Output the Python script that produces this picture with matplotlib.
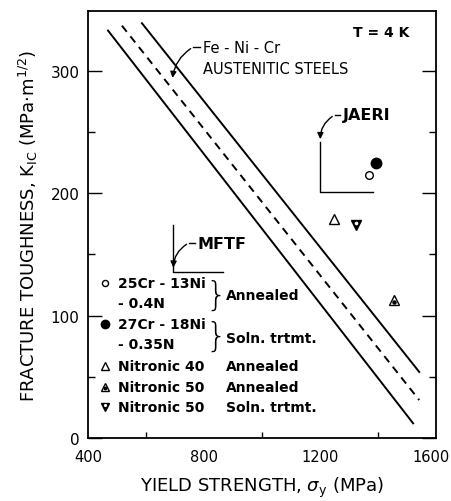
import numpy as np
import matplotlib.pyplot as plt
import matplotlib.transforms as mtransforms
from matplotlib.ticker import MultipleLocator, FixedLocator

# Fe-Ni-Cr austenitic steel scatter band (lower bound, mean, upper bound)
band_sy = [[469, 1521], [517, 1542], [586, 1542]]
band_kic = [[333, 12], [337, 31], [339, 54]]
band_ls = ['-', (0, (4, 3)), '-']

# individual high-nitrogen alloys at 4 K
alloy_sy = [1370, 1393, 1248, 1455, 1324]
alloy_kic = [215, 225, 179, 113, 174]
alloy_marker = ['o', 'o', '^', '^', 'v']
alloy_face = ['white', 'black', 'white', 'white', 'black']
alloy_ms = [5.5, 7.5, 6.5, 6.5, 6.5]

# key text
key_text = ['25Cr - 13Ni', '- 0.4N', '27Cr - 18Ni', '- 0.35N',
            'Nitronic 40', 'Nitronic 50', 'Nitronic 50']
key_y = [127, 110.5, 93.5, 76.5, 58.5, 42, 25.5]
key_alloy = [0, None, 1, None, 2, 3, 4]
cond_text = ['Annealed', 'Soln. trtmt.', 'Annealed', 'Annealed', 'Soln. trtmt.']
cond_y = [117, 82, 58.5, 42, 25.5]

fig = plt.figure(figsize=(4.52, 5.02), dpi=100)
ax = fig.add_axes([0.1947, 0.1255, 0.770, 0.8506])

for xs, ys, ls in zip(band_sy, band_kic, band_ls):
    ax.plot(xs, ys, color='black', lw=1.4, ls=ls)


def alloy_mark(x, y, i, scale=1.0):
    ax.plot(x, y, ls='none', marker=alloy_marker[i], ms=alloy_ms[i] * scale,
            mfc=alloy_face[i], mec='black', mew=1.0)
    if i == 3:
        ax.plot(x, y - 1.5 * scale, ls='none', marker='o', ms=2.2 * scale,
                mfc='black', mec='black')
    if i == 4:
        ax.plot(x, y + 1.5 * scale, ls='none', marker='o', ms=1.6 * scale,
                mfc='white', mec='white')


for i in range(len(alloy_sy)):
    alloy_mark(alloy_sy[i], alloy_kic[i], i)

# key, written inside the axes
bold = dict(fontsize=10, fontweight='bold', va='center', family='DejaVu Sans')
for txt, y, ai in zip(key_text, key_y, key_alloy):
    ax.text(503, y, txt, ha='left', **bold)
    if ai is not None:
        alloy_mark(459, y, ai, scale=0.8)
for txt, y in zip(cond_text, cond_y):
    ax.text(876, y, txt, ha='left', **bold)
for ytop, ybot in [(131, 103), (97, 69)]:
    ax.text(840, (ytop + ybot) / 2, '}', fontsize=24, ha='center', va='center',
            fontweight='light')

ax.text(1410, 332, 'T = 4 K', fontsize=10, fontweight='bold', ha='center', va='center')

# Fe-Ni-Cr band label
ax.text(797, 319, 'Fe - Ni - Cr', fontsize=10.5, ha='left', va='center')
ax.text(797, 302, 'AUSTENITIC STEELS', fontsize=10.5, ha='left', va='center')
ax.plot([762, 785], [319.5, 319.5], color='black', lw=1.0)
ax.annotate('', xy=(690, 292), xytext=(762, 319.5),
            arrowprops=dict(arrowstyle='-|>', color='black', lw=1.0,
                            mutation_scale=9,
                            connectionstyle='arc3,rad=0.25'))

# JAERI group
ax.text(1280, 264, 'JAERI', fontsize=11.5, fontweight='bold', ha='left', va='center')
ax.plot([1250, 1270], [264, 264], color='black', lw=1.0)
ax.annotate('', xy=(1201, 242), xytext=(1250, 264),
            arrowprops=dict(arrowstyle='-|>', color='black', lw=1.0,
                            mutation_scale=9,
                            connectionstyle='arc3,rad=0.3'))
ax.plot([1200, 1200, 1383], [242, 201, 201], color='black', lw=1.0)

# MFTF group
ax.text(778, 159, 'MFTF', fontsize=11.5, fontweight='bold', ha='left', va='center')
ax.plot([748, 770], [159.5, 159.5], color='black', lw=1.0)
ax.annotate('', xy=(694, 137), xytext=(748, 159.5),
            arrowprops=dict(arrowstyle='-|>', color='black', lw=1.0,
                            mutation_scale=9,
                            connectionstyle='arc3,rad=0.3'))
ax.plot([693, 693, 865], [174, 136, 136], color='black', lw=1.0)

ax.set_xlim(400, 1600)
ax.set_ylim(0, 349)
ax.set_xticks([400, 800, 1200, 1600])
ax.xaxis.set_minor_locator(FixedLocator([600, 1000, 1400]))
ax.set_yticks([0, 100, 200, 300])
ax.yaxis.set_minor_locator(MultipleLocator(50))
ax.tick_params(axis='y', which='major', direction='in', length=10, width=1.0,
               right=True, labelsize=11, pad=6)
ax.tick_params(axis='y', which='minor', direction='in', length=5, width=1.0,
               right=True)
ax.tick_params(axis='x', which='major', direction='in', length=0, labelsize=10.5, pad=8)
ax.tick_params(axis='x', which='minor', direction='in', length=4, width=1.0)
for s in ax.spines.values():
    s.set_linewidth(1.3)

# keep the last x label inside the canvas
last = ax.get_xticklabels()[-1]
last.set_transform(last.get_transform()
                   + mtransforms.ScaledTranslation(-5 / 100, 0, fig.dpi_scale_trans))

ax.set_xlabel(r'YIELD STRENGTH, $\sigma_\mathregular{y}$ (MPa)', fontsize=13, labelpad=8)
ax.set_ylabel(r'FRACTURE TOUGHNESS, K$_\mathregular{IC}$ (MPa$\cdot$m$^\mathregular{1/2}$)',
              fontsize=13, labelpad=8)

fig.savefig('out.png', dpi=100)
